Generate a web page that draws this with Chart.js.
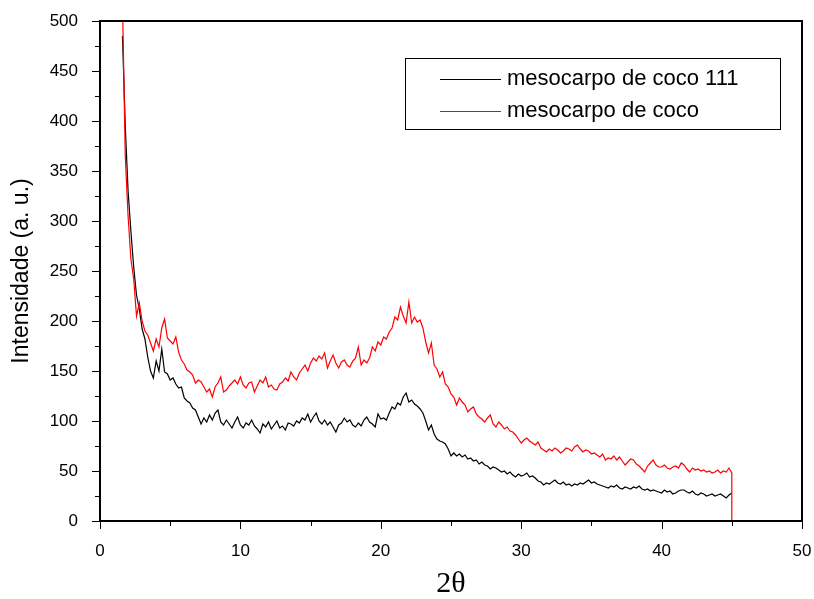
<!DOCTYPE html>
<html>
  <head>
    <meta charset="utf-8" />
    <script src="https://cdn.jsdelivr.net/npm/chart.js"></script>
    <title>DRX mesocarpo de coco</title>
    <style>
      html, body { margin: 0; padding: 0; background: #fff; }
      #wrap { width: 814px; height: 599px; }
    </style>
  </head>
  <body>
    <div id="wrap"><canvas id="drx"></canvas></div>

    <script>
      // eixo 2θ: amostras a cada 0.2 graus, de 1.6 a 45.0, mais o ponto final da queda
      var xStart = 1.6;
      var xStep = 0.2;
      var nPts = 218;
      var xs = [];
      for (var i = 0; i < nPts; i++) xs.push(+(xStart + i * xStep).toFixed(1));
      xs.push(45.0);

      var xTicks = [0, 10, 20, 30, 40, 50];
      var yTicks = [0, 50, 100, 150, 200, 250, 300, 350, 400, 450, 500];

      var seriesNames = ["mesocarpo de coco 111", "mesocarpo de coco"];

      // mesocarpo de coco 111 (preto)
      var coco111 = [
        485, 395, 330, 290, 254, 226, 212, 192, 182, 164,
        150, 143, 160, 150, 172, 149, 147, 141, 143, 137,
        133, 134, 123, 120, 118, 113, 111, 104, 97, 103,
        99, 106, 101, 108, 111, 99, 96, 101, 97, 93,
        99, 104, 96, 93, 98, 96, 101, 95, 92, 88,
        97, 94, 99, 92, 96, 100, 93, 95, 91, 98,
        97, 95, 100, 98, 103, 101, 107, 99, 104, 108,
        100, 97, 101, 96, 99, 94, 89, 96, 98, 103,
        99, 101, 96, 94, 98, 95, 101, 104, 99, 97,
        94, 107, 102, 103, 101, 108, 114, 112, 118, 116,
        124, 128, 119, 121, 117, 115, 112, 108, 100, 91,
        96, 87, 82, 80, 79, 77, 72, 65, 68, 65,
        67, 64, 66, 62, 63, 60, 61, 57, 59, 56,
        55, 52, 54, 53, 51, 49, 50, 47, 49, 46,
        44, 47, 45, 46, 48, 44, 45, 43, 40, 39,
        36, 38, 37, 39, 41, 38, 37, 39, 36, 37,
        35, 37, 36, 38, 37, 39, 41, 38, 39, 37,
        36, 35, 34, 33, 35, 34, 36, 33, 32, 34,
        33, 32, 34, 33, 35, 32, 31, 32, 30, 31,
        30, 29, 28, 31, 29, 30, 27, 28, 30, 31,
        31, 29, 28, 30, 27, 26, 28, 27, 25, 26,
        27, 25, 26, 27, 25, 23, 26, 28
      ];

      // mesocarpo de coco (vermelho), termina com a queda a zero em 45
      var coco = [
        520, 365, 305, 262, 242, 205, 218, 200, 190, 186,
        178, 170, 182, 174, 193, 202, 183, 180, 177, 184,
        169, 161, 157, 151, 149, 146, 138, 141, 139, 134,
        129, 132, 124, 134, 138, 144, 129, 131, 135, 138,
        141, 137, 144, 136, 133, 138, 139, 129, 135, 141,
        138, 144, 134, 136, 132, 131, 137, 139, 143, 140,
        149, 144, 141, 148, 152, 156, 150, 158, 163, 160,
        165, 162, 168, 153, 160, 166, 158, 153, 159, 161,
        156, 154, 160, 163, 174, 156, 161, 158, 163, 174,
        170, 179, 176, 184, 182, 189, 193, 204, 201, 214,
        205, 198, 219, 198, 204, 199, 201, 193, 179, 168,
        178, 156, 152, 144, 149, 137, 134, 127, 124, 116,
        123, 119, 116, 109, 112, 114, 107, 104, 102, 99,
        103, 106, 97, 94, 99, 96, 92, 94, 90, 89,
        86, 82, 78, 81, 83, 80, 78, 76, 79, 73,
        71, 69, 72, 70, 73, 71, 68, 70, 73, 72,
        70, 74, 76, 72, 69, 71, 70, 67, 68, 66,
        64, 67, 61, 63, 62, 65, 61, 64, 60, 56,
        59, 62, 61, 57, 55, 52, 49, 55, 58, 61,
        56, 54, 54, 56, 53, 52, 54, 55, 53, 58,
        56, 52, 49, 53, 51, 52, 50, 51, 49, 50,
        48, 49, 51, 48, 50, 49, 53, 48,
        0
      ];

      function toPoints(arr) {
        return arr.map(function (v, i) {
          return { x: xs[i], y: v };
        });
      }

      // moldura e marcas dos eixos (maiores e menores)
      var framePlugin = {
        id: "frame",
        afterDraw: function (chart) {
          var ctx = chart.ctx;
          var a = chart.chartArea;
          var sx = chart.scales.x;
          var sy = chart.scales.y;
          ctx.save();
          ctx.strokeStyle = "#000";
          ctx.lineWidth = 1;
          ctx.beginPath();
          for (var v = 0; v <= 50; v += 5) {
            var px = Math.round(sx.getPixelForValue(v)) + 0.5;
            var len = v % 10 === 0 ? 8 : 5;
            ctx.moveTo(px, a.bottom);
            ctx.lineTo(px, a.bottom + len);
          }
          for (var w = 0; w <= 500; w += 25) {
            var py = Math.round(sy.getPixelForValue(w)) + 0.5;
            var l2 = w % 50 === 0 ? 8 : 5;
            ctx.moveTo(a.left, py);
            ctx.lineTo(a.left - l2, py);
          }
          ctx.stroke();
          ctx.lineWidth = 2;
          ctx.strokeRect(a.left, a.top, a.right - a.left, a.bottom - a.top);
          ctx.restore();
        },
      };

      // legenda em caixa dentro do gráfico
      var boxLegend = {
        id: "boxLegend",
        afterDraw: function (chart) {
          var ctx = chart.ctx;
          var a = chart.chartArea;
          var x0 = a.left + 305, y0 = a.top + 37, w = 375, h = 71;
          ctx.save();
          ctx.fillStyle = "#fff";
          ctx.fillRect(x0, y0, w, h);
          ctx.strokeStyle = "#000";
          ctx.lineWidth = 1;
          ctx.strokeRect(x0 + 0.5, y0 + 0.5, w, h);
          ctx.font = "22px 'Liberation Sans', Arial, sans-serif";
          ctx.textBaseline = "middle";
          chart.data.datasets.forEach(function (ds, i) {
            var yy = y0 + 21 + i * 32;
            ctx.strokeStyle = ds.borderColor;
            ctx.beginPath();
            ctx.moveTo(x0 + 35, yy + 0.5);
            ctx.lineTo(x0 + 96, yy + 0.5);
            ctx.stroke();
            ctx.fillStyle = "#000";
            ctx.fillText(ds.label, x0 + 102, yy);
          });
          ctx.restore();
        },
      };

      function noPadding(s) {
        s.paddingTop = 0;
        s.paddingBottom = 0;
        s.paddingLeft = 0;
        s.paddingRight = 0;
      }

      var tickFont = { family: "'Liberation Sans', Arial, sans-serif", size: 17 };

      new Chart(document.getElementById("drx").getContext("2d"), {
        type: "line",
        data: {
          datasets: [
            {
              label: seriesNames[0],
              data: toPoints(coco111),
              borderColor: "#000000",
              borderWidth: 1.2,
              pointRadius: 0,
              order: 1,
            },
            {
              label: seriesNames[1],
              data: toPoints(coco),
              borderColor: "#ff0000",
              borderWidth: 1.2,
              pointRadius: 0,
              order: 0,
            },
          ],
        },
        options: {
          responsive: true,
          maintainAspectRatio: false,
          animation: false,
          layout: { padding: { left: 0, right: 12, top: 21, bottom: 0 } },
          plugins: {
            legend: { display: false },
            tooltip: { enabled: false },
          },
          scales: {
            x: {
              type: "linear",
              min: 0,
              max: 50,
              afterFit: function (s) { s.height = 78; noPadding(s); },
              afterBuildTicks: function (s) {
                s.ticks = xTicks.map(function (v) { return { value: v }; });
              },
              grid: { display: false },
              border: { display: false },
              ticks: { color: "#000", font: tickFont, padding: 12, maxRotation: 0 },
              title: {
                display: true,
                text: "2θ",
                color: "#000",
                font: { family: "'Liberation Serif', 'Times New Roman', serif", size: 30, lineHeight: 1 },
                padding: { top: 0, bottom: 0 },
              },
            },
            y: {
              min: 0,
              max: 500,
              afterFit: function (s) { s.width = 100; noPadding(s); },
              afterBuildTicks: function (s) {
                s.ticks = yTicks.map(function (v) { return { value: v }; });
              },
              grid: { display: false },
              border: { display: false },
              ticks: { color: "#000", font: tickFont, padding: 14 },
              title: {
                display: true,
                text: "Intensidade (a. u.)",
                color: "#000",
                font: { family: "'Liberation Sans', Arial, sans-serif", size: 23 },
                padding: { top: 8, bottom: 0 },
              },
            },
          },
        },
        plugins: [framePlugin, boxLegend],
      });
    </script>
  </body>
</html>
